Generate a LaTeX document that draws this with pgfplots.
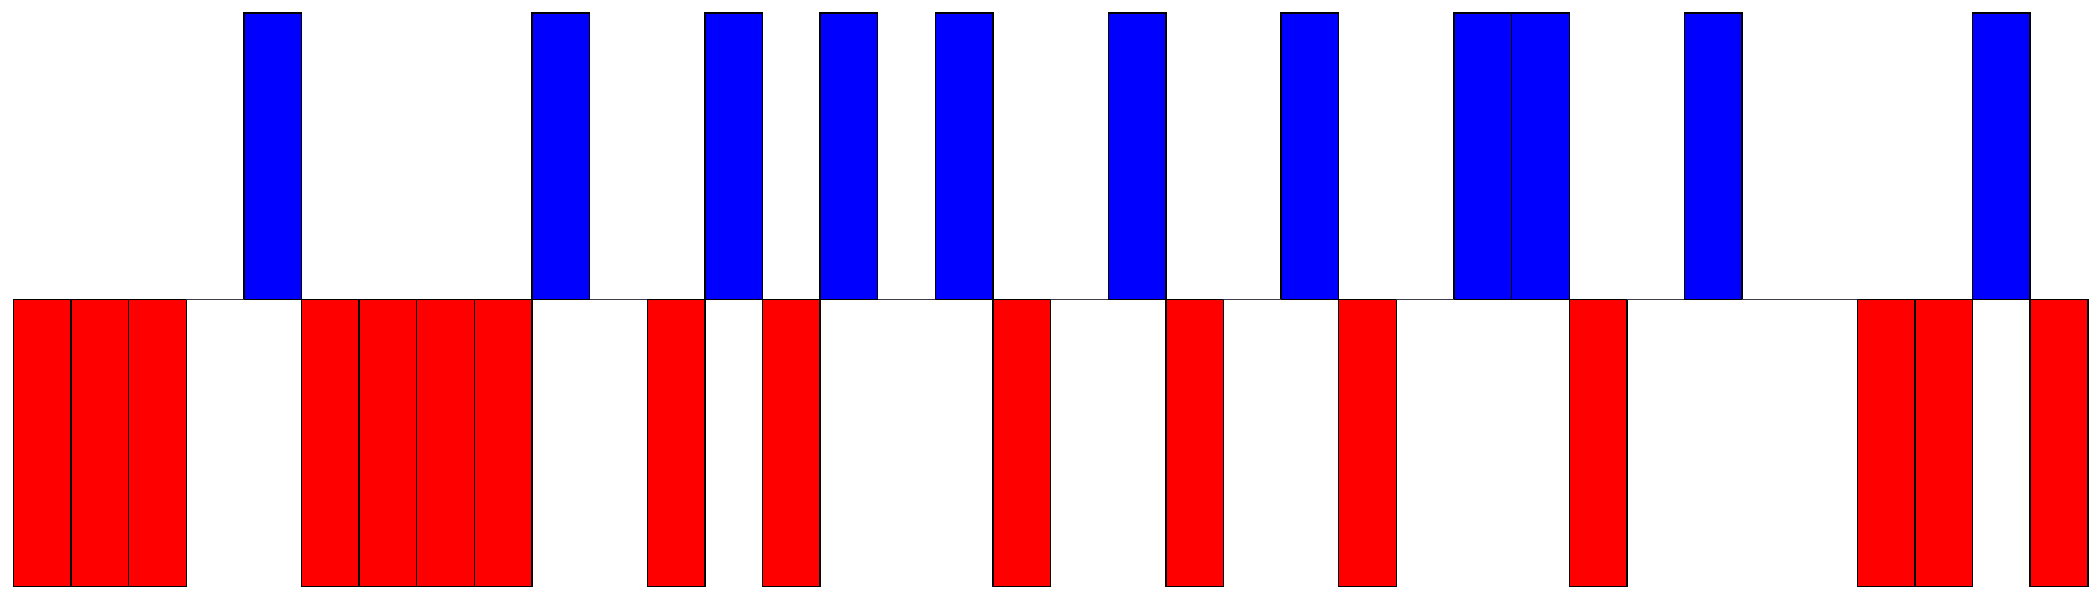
\documentclass[border=0pt]{standalone}
\usepackage{pgfplots}
\pgfplotsset{compat=1.18}
\definecolor{baseline}{RGB}{60,60,75}
\begin{document}
\begin{tikzpicture}
\useasboundingbox (0,0) rectangle (525pt,150pt);
\begin{axis}[
  at={(3.35pt,3.35pt)}, anchor=south west,
  scale only axis, width=518.6pt, height=143.4pt,
  hide axis, clip=false,
  xmin=-0.5, xmax=35.5, ymin=-1, ymax=1,
  ybar, bar width=1, bar shift=0pt,
]
\addplot[fill=blue, draw=black, line width=0.35pt] coordinates {
(4,1) (9,1) (12,1) (14,1) (16,1) (19,1) (22,1) (25,1) (26,1) (29,1) (34,1)};
\addplot[fill=red, draw=black, line width=0.35pt] coordinates {
(0,-1) (1,-1) (2,-1) (5,-1) (6,-1) (7,-1) (8,-1) (11,-1) (13,-1) (17,-1) (20,-1) (23,-1) (27,-1) (32,-1) (33,-1) (35,-1)};
\addplot[fill=none, draw=baseline, line width=0.35pt] coordinates {
(3,0) (10,0) (15,0) (18,0) (21,0) (24,0) (28,0) (30,0) (31,0)};
\end{axis}
\end{tikzpicture}
\end{document}
